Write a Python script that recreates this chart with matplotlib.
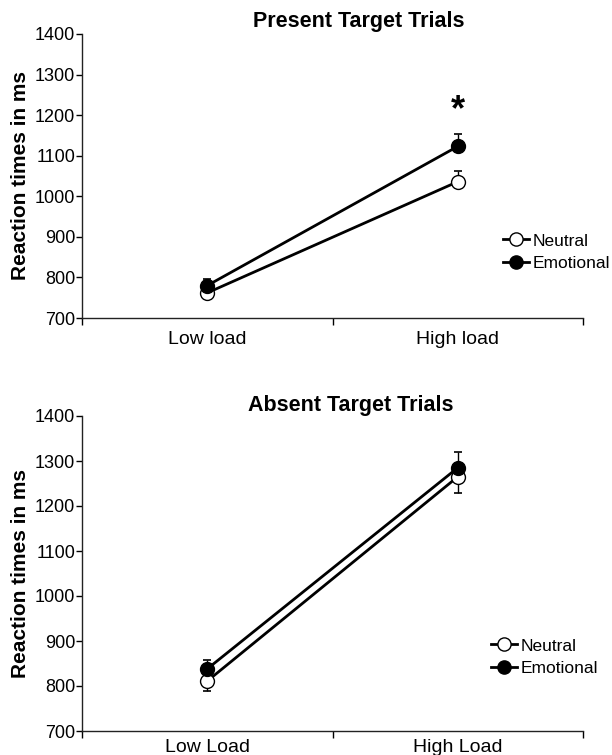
import matplotlib
matplotlib.use("Agg")
import matplotlib.pyplot as plt
from matplotlib.ticker import FixedLocator, NullFormatter, FixedFormatter

plt.rcParams['font.family'] = ['Liberation Sans', 'DejaVu Sans']

# ---- data ----
present_labels = ["Low load", "High load"]
absent_labels = ["Low Load", "High Load"]
yticks = [700, 800, 900, 1000, 1100, 1200, 1300, 1400]

present_neutral = [762, 1036]
present_emotional = [780, 1123]
present_neutral_err_lo = [0, 0]
present_neutral_err_hi = [10, 27]
present_emotional_err_lo = [0, 0]
present_emotional_err_hi = [16, 31]
present_star_y = 1212

absent_neutral = [811, 1265]
absent_emotional = [838, 1285]
absent_neutral_err_lo = [23, 35]
absent_neutral_err_hi = [0, 0]
absent_emotional_err_lo = [0, 0]
absent_emotional_err_hi = [19, 35]

W, H = 612, 755
fig = plt.figure(figsize=(W / 100, H / 100), dpi=100)

def px_axes(l, t, r, b):
    return fig.add_axes([l / W, 1 - b / H, (r - l) / W, (b - t) / H])

def draw_panel(ax, labels, neu, emo, n_lo, n_hi, e_lo, e_hi, title, title_xy, leg_xy, xpad):
    x = list(range(len(labels)))
    ax.errorbar(x, neu, yerr=[n_lo, n_hi], fmt='none', ecolor='black',
                elinewidth=1.0, capsize=3, capthick=1.2, zorder=1)
    ax.errorbar(x, emo, yerr=[e_lo, e_hi], fmt='none', ecolor='black',
                elinewidth=1.0, capsize=3, capthick=1.2, zorder=1)
    ax.plot(x, neu, '-o', color='black', lw=2.0, ms=10, mfc='white',
            mec='black', mew=1.0, label='Neutral', zorder=3)
    ax.plot(x, emo, '-o', color='black', lw=2.0, ms=10, mfc='black',
            mec='black', mew=1.0, label='Emotional', zorder=4)
    ax.set_xlim(-0.5, len(labels) - 0.5)
    ax.set_ylim(700, 1400)
    ax.set_yticks(yticks)
    ax.set_yticklabels([str(v) for v in yticks])
    ax.xaxis.set_major_locator(FixedLocator([-0.5, 0.5, 1.5]))
    ax.xaxis.set_major_formatter(NullFormatter())
    ax.xaxis.set_minor_locator(FixedLocator(x))
    ax.xaxis.set_minor_formatter(FixedFormatter(labels))
    ax.tick_params(axis='x', which='major', length=5, width=1, direction='out')
    ax.tick_params(axis='x', which='minor', length=0, labelsize=14, pad=xpad)
    ax.tick_params(axis='y', length=4, width=1, direction='out', labelsize=13, pad=1)
    for s in ['top', 'right']:
        ax.spines[s].set_visible(False)
    for s in ['left', 'bottom']:
        ax.spines[s].set_linewidth(1.0)
        ax.spines[s].set_color('#222222')
    ax.set_ylabel('Reaction times in ms', fontsize=15, fontweight='bold')
    ax.yaxis.set_label_coords(-0.104, 0.5)
    fig.text(title_xy[0] / W, 1 - title_xy[1] / H, title, ha='center', va='center',
             fontsize=15.5, fontweight='bold')
    fig.legend(handles=ax.get_lines()[-2:], labels=['Neutral', 'Emotional'],
               loc='center left', bbox_to_anchor=(leg_xy[0] / W, 1 - leg_xy[1] / H),
               frameon=False, fontsize=12.5, handlelength=1.5, handletextpad=0.2,
               labelspacing=0.4, borderpad=0, borderaxespad=0, markerscale=0.95)

ax1 = px_axes(82, 34, 583, 318)
draw_panel(ax1, present_labels, present_neutral, present_emotional,
           present_neutral_err_lo, present_neutral_err_hi,
           present_emotional_err_lo, present_emotional_err_hi,
           'Present Target Trials', (359, 22), (503, 252), 9)
ax1.text(1, present_star_y, '*', ha='center', va='center', fontsize=26, fontweight='bold')

ax2 = px_axes(82, 416, 583, 731)
draw_panel(ax2, absent_labels, absent_neutral, absent_emotional,
           absent_neutral_err_lo, absent_neutral_err_hi,
           absent_emotional_err_lo, absent_emotional_err_hi,
           'Absent Target Trials', (351, 406), (491, 657), 6)

fig.savefig('out.png', dpi=100, facecolor='white')
